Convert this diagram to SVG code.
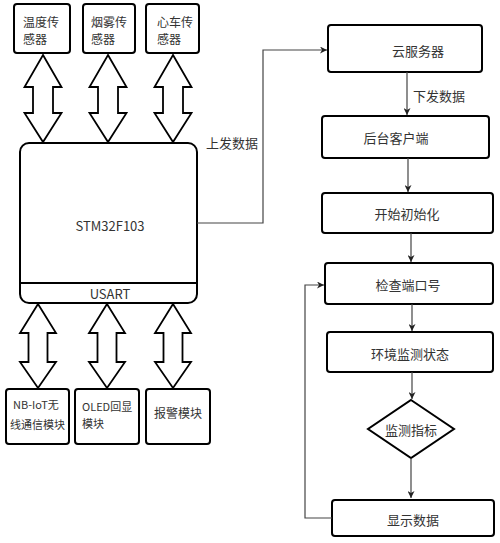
<svg xmlns="http://www.w3.org/2000/svg" width="500" height="543" viewBox="0 0 500 543">
<defs>
<style>
.box{fill:#fff;stroke:#000;stroke-width:2}
.arr{fill:#fff;stroke:#000;stroke-width:1.8;stroke-linejoin:miter}
.con{fill:none;stroke:#444;stroke-width:1.2}
text{font-family:"Noto Sans CJK SC","Liberation Sans",sans-serif;fill:#333;font-size:13px}
.c{text-anchor:middle;dominant-baseline:central}
.l{dominant-baseline:central}
.sm{font-size:11px}
.sm2{font-size:12px}
</style>
<marker id="ah" viewBox="0 0 10 10" refX="10" refY="5" markerWidth="7" markerHeight="7" orient="auto" markerUnits="userSpaceOnUse">
<path d="M0,0 L10,5 L0,10 L3,5 Z" fill="#222"/>
</marker>
</defs>
<rect width="500" height="543" fill="#fff"/>

<g id="temp-sensor"><rect class="box" x="14" y="4" width="56" height="49" rx="3"/><text class="l sm2" x="23" y="21">温度传</text><text class="l sm2" x="23" y="38">感器</text></g>
<g id="smoke-sensor"><rect class="box" x="83" y="4" width="52" height="49" rx="3"/><text class="l sm2" x="91" y="21">烟雾传</text><text class="l sm2" x="91" y="38">感器</text></g>
<g id="heart-sensor"><rect class="box" x="146" y="4" width="53" height="49" rx="3"/><text class="l sm2" x="157" y="21">心车传</text><text class="l sm2" x="157" y="38">感器</text></g>

<g id="stm32"><rect class="box" x="20" y="143" width="177" height="160" rx="9"/><line x1="20" y1="283" x2="197" y2="283" stroke="#000" stroke-width="2"/><text class="c" x="110" y="225">STM32F103</text><text class="c" x="110" y="293">USART</text></g>

<g id="nbiot"><rect class="box" x="6" y="389" width="63" height="55" rx="3"/><text class="l sm" x="13" y="404">NB-IoT无</text><text class="l sm" x="10" y="424">线通信模块</text></g>
<g id="oled"><rect class="box" x="75" y="389" width="64" height="55" rx="3"/><text class="l sm" x="82" y="406">OLED回显</text><text class="l sm" x="82" y="423">模块</text></g>
<g id="alarm"><rect class="box" x="146" y="389" width="64" height="55" rx="3"/><text class="l sm2" x="154" y="412">报警模块</text></g>

<g id="cloud"><rect class="box" x="328" y="25" width="154" height="47" rx="3"/><text class="c" x="418" y="50">云服务器</text></g>
<g id="client"><rect class="box" x="322" y="116" width="167" height="42" rx="3"/><text class="c" x="396" y="137">后台客户端</text></g>
<g id="init"><rect class="box" x="322" y="193" width="171" height="40" rx="3"/><text class="c" x="407" y="213">开始初始化</text></g>
<g id="port"><rect class="box" x="325" y="263" width="168" height="41" rx="3"/><text class="c" x="408" y="284">检查端口号</text></g>
<g id="env"><rect class="box" x="327" y="332" width="166" height="40" rx="3"/><text class="c" x="410" y="353">环境监测状态</text></g>
<g id="indicator"><polygon class="box" points="411,400 454,429 411,458 368,429"/><text class="c" x="411" y="429">监测指标</text></g>
<g id="display"><rect class="box" x="332" y="500" width="162" height="36" rx="3"/><text class="c" x="413" y="519">显示数据</text></g>

<g id="connectors">
<polygon class="arr" points="43,55 61.5,87 53,87 53,113 61.5,113 43,142 24.5,113 33,113 33,87 24.5,87"/>
<polygon class="arr" points="108,55 126.5,87 118,87 118,113 126.5,113 108,142 89.5,113 98,113 98,87 89.5,87"/>
<polygon class="arr" points="173,55 191.5,87 183,87 183,113 191.5,113 173,142 154.5,113 163,113 163,87 154.5,87"/>
<polygon class="arr" points="38,304 56,333 47.5,333 47.5,362 56,362 38,388 20,362 28.5,362 28.5,333 20,333"/>
<polygon class="arr" points="107,304 125,333 116.5,333 116.5,362 125,362 107,388 89,362 97.5,362 97.5,333 89,333"/>
<polygon class="arr" points="173,304 191,333 182.5,333 182.5,362 191,362 173,388 155,362 163.5,362 163.5,333 155,333"/>
<polyline class="con" points="197,223 263,223 263,50 327,50" marker-end="url(#ah)"/>
<text class="l" x="206" y="142">上发数据</text>
<line class="con" x1="407" y1="72" x2="407" y2="115" marker-end="url(#ah)"/>
<text class="l" x="413" y="95">下发数据</text>
<line class="con" x1="408" y1="158" x2="408" y2="192" marker-end="url(#ah)"/>
<line class="con" x1="411" y1="233" x2="411" y2="262" marker-end="url(#ah)"/>
<line class="con" x1="412" y1="304" x2="412" y2="331" marker-end="url(#ah)"/>
<line class="con" x1="412" y1="372" x2="412" y2="399" marker-end="url(#ah)"/>
<line class="con" x1="411" y1="458" x2="411" y2="498" marker-end="url(#ah)"/>
<polyline class="con" points="332,518 305,518 305,285 324,285" marker-end="url(#ah)"/>
</g>
</svg>
